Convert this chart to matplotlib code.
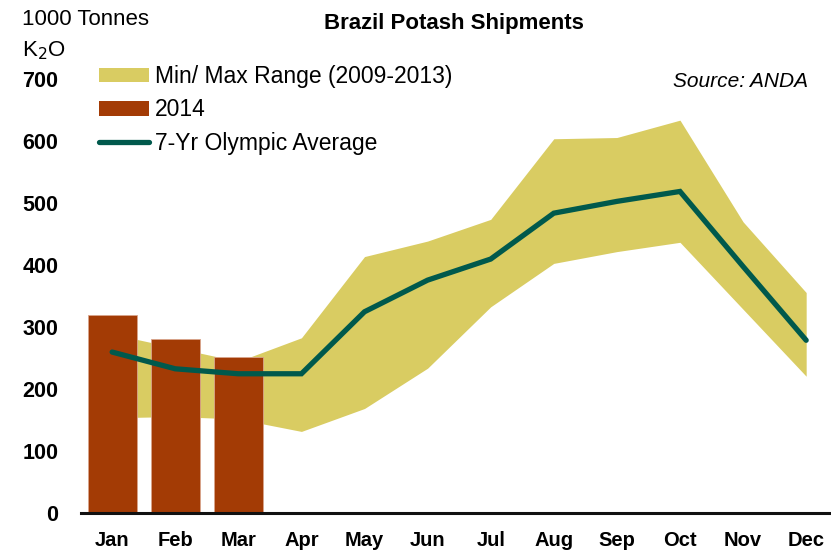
import numpy as np
import matplotlib.pyplot as plt
from matplotlib.patches import Patch
from matplotlib.lines import Line2D

# data (1000 tonnes K2O)
months = ['Jan', 'Feb', 'Mar', 'Apr', 'May', 'Jun',
          'Jul', 'Aug', 'Sep', 'Oct', 'Nov', 'Dec']
range_max = [289, 267, 245, 283, 414, 439, 474, 604, 606, 634, 470, 356]
range_min = [154, 156, 152, 132, 169, 234, 333, 403, 422, 437, 329, 221]
olympic_avg = [260, 233, 225, 225, 325, 376, 410, 484, 503, 519, 398, 279]
ship_2014 = [319, 281, 252]
yticks = [0, 100, 200, 300, 400, 500, 600, 700]

band_col = '#D9CC62'
bar_col = '#A33B05'
line_col = '#00594C'

plt.rcParams['font.family'] = ['Liberation Sans', 'DejaVu Sans']

fig = plt.figure(figsize=(8.31, 5.54), dpi=100)
ax = fig.add_axes([0.097, 0.0735, 0.9035, 0.7835])

x = np.arange(len(months))
ax.fill_between(x, range_min, range_max, color=band_col, linewidth=0, zorder=1)
ax.bar(x[:len(ship_2014)], ship_2014, width=0.78, color=bar_col,
       edgecolor='#D9A58C', linewidth=0.6, zorder=2)
ax.plot(x, olympic_avg, color=line_col, linewidth=3.8,
        solid_capstyle='round', solid_joinstyle='miter', zorder=3)

ax.set_xlim(-0.5, 11.4)
ax.set_ylim(0, 700)
ax.set_xticks(x)
ax.set_xticklabels(months, fontsize=14.5, fontweight='bold')
ax.set_yticks(yticks)
ax.set_yticklabels([str(v) for v in yticks], fontsize=15.5, fontweight='bold')
ax.tick_params(axis='both', length=0)
ax.tick_params(axis='x', pad=13)
ax.tick_params(axis='y', pad=16)

for s in ['top', 'right', 'left']:
    ax.spines[s].set_visible(False)
ax.spines['bottom'].set_linewidth(2.2)
ax.spines['bottom'].set_color('#111111')

# labels
fig.text(0.027, 0.964, '1000 Tonnes', fontsize=16, ha='left', va='center')
fig.text(0.027, 0.909, r'K$_2$O', fontsize=16, ha='left', va='center')
fig.text(0.546, 0.958, 'Brazil Potash Shipments', fontsize=16,
         fontweight='bold', ha='center', va='center')
fig.text(0.972, 0.852, 'Source: ANDA', fontsize=15, style='italic',
         ha='right', va='center')

handles = [Patch(facecolor=band_col, edgecolor='none'),
           Patch(facecolor=bar_col, edgecolor='none'),
           Line2D([0], [0], color=line_col, linewidth=3.8, solid_capstyle='round')]
labels = ['Min/ Max Range (2009-2013)', '2014', '7-Yr Olympic Average']
fig.legend(handles, labels, loc='upper left', bbox_to_anchor=(0.119, 0.8826),
           frameon=False, fontsize=16.5, handlelength=2.18, handleheight=0.6,
           handletextpad=0.26, labelspacing=0.45, borderaxespad=0, borderpad=0)

fig.savefig('out.png', dpi=100)
